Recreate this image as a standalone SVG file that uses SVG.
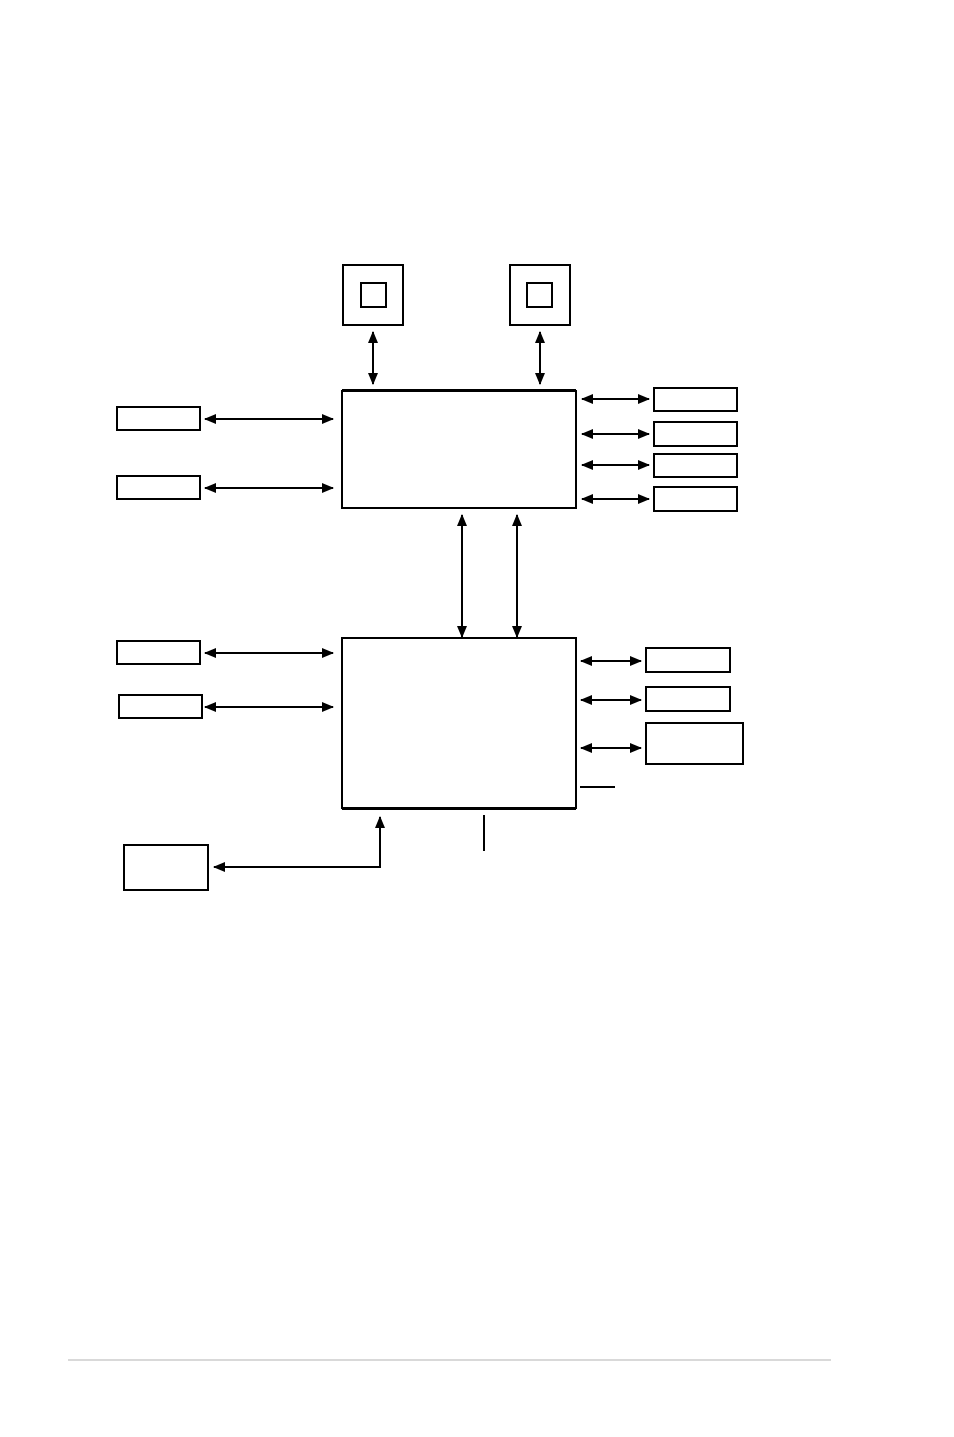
<svg xmlns="http://www.w3.org/2000/svg" width="954" height="1437" viewBox="0 0 954 1437">
<style>
.b{fill:#fff;stroke:#000;stroke-width:2}
.c{fill:none;stroke:#000;stroke-width:2}
.a{fill:none;stroke:#000;stroke-width:2;marker-start:url(#ah);marker-end:url(#ah)}
</style>
<defs>
<marker id="ah" viewBox="0 0 12 10" refX="11" refY="5" markerWidth="12" markerHeight="10" markerUnits="userSpaceOnUse" orient="auto-start-reverse">
<path d="M0,0 L12,5 L0,10 z" fill="#000"/>
</marker>
</defs>
<rect width="954" height="1437" fill="#fff"/>
<g id="cpu1"><rect class="b" x="343" y="265" width="60" height="60"/><rect class="b" x="361" y="283" width="25" height="24"/></g>
<g id="cpu2"><rect class="b" x="510" y="265" width="60" height="60"/><rect class="b" x="527" y="283" width="25" height="24"/></g>
<g id="northbridge"><rect class="b" x="342" y="391" width="234" height="117"/><line class="c" x1="342" y1="390" x2="576" y2="390"/></g>
<g id="nl1"><rect class="b" x="117" y="407" width="83" height="23"/></g>
<g id="nl2"><rect class="b" x="117" y="476" width="83" height="23"/></g>
<g id="nr1"><rect class="b" x="654" y="388" width="83" height="23"/></g>
<g id="nr2"><rect class="b" x="654" y="422" width="83" height="24"/></g>
<g id="nr3"><rect class="b" x="654" y="454" width="83" height="23"/></g>
<g id="nr4"><rect class="b" x="654" y="487" width="83" height="24"/></g>
<g id="southbridge"><rect class="b" x="342" y="638" width="234" height="170"/><line class="c" x1="342" y1="809" x2="576" y2="809"/></g>
<g id="sl1"><rect class="b" x="117" y="641" width="83" height="23"/></g>
<g id="sl2"><rect class="b" x="119" y="695" width="83" height="23"/></g>
<g id="sr1"><rect class="b" x="646" y="648" width="84" height="24"/></g>
<g id="sr2"><rect class="b" x="646" y="687" width="84" height="24"/></g>
<g id="sr3"><rect class="b" x="646" y="723" width="97" height="41"/></g>
<g id="bottombox"><rect class="b" x="124" y="845" width="84" height="45"/></g>
<g id="connectors">
<line class="a" x1="373" y1="332" x2="373" y2="384"/>
<line class="a" x1="540" y1="332" x2="540" y2="384"/>
<line class="a" x1="205" y1="419" x2="333" y2="419"/>
<line class="a" x1="205" y1="488" x2="333" y2="488"/>
<line class="a" x1="582" y1="399" x2="649" y2="399"/>
<line class="a" x1="582" y1="434" x2="649" y2="434"/>
<line class="a" x1="582" y1="465" x2="649" y2="465"/>
<line class="a" x1="582" y1="499" x2="649" y2="499"/>
<line class="a" x1="462" y1="515" x2="462" y2="637"/>
<line class="a" x1="517" y1="515" x2="517" y2="637"/>
<line class="a" x1="205" y1="653" x2="333" y2="653"/>
<line class="a" x1="205" y1="707" x2="333" y2="707"/>
<line class="a" x1="581" y1="661" x2="641" y2="661"/>
<line class="a" x1="581" y1="700" x2="641" y2="700"/>
<line class="a" x1="581" y1="748" x2="641" y2="748"/>
<line class="c" x1="580" y1="787" x2="615" y2="787"/>
<line class="c" x1="484" y1="815" x2="484" y2="851"/>
<polyline class="a" points="380,817 380,867 214,867"/>
</g>
<line x1="68" y1="1360" x2="831" y2="1360" stroke="#d9d9d9" stroke-width="2"/>
</svg>
